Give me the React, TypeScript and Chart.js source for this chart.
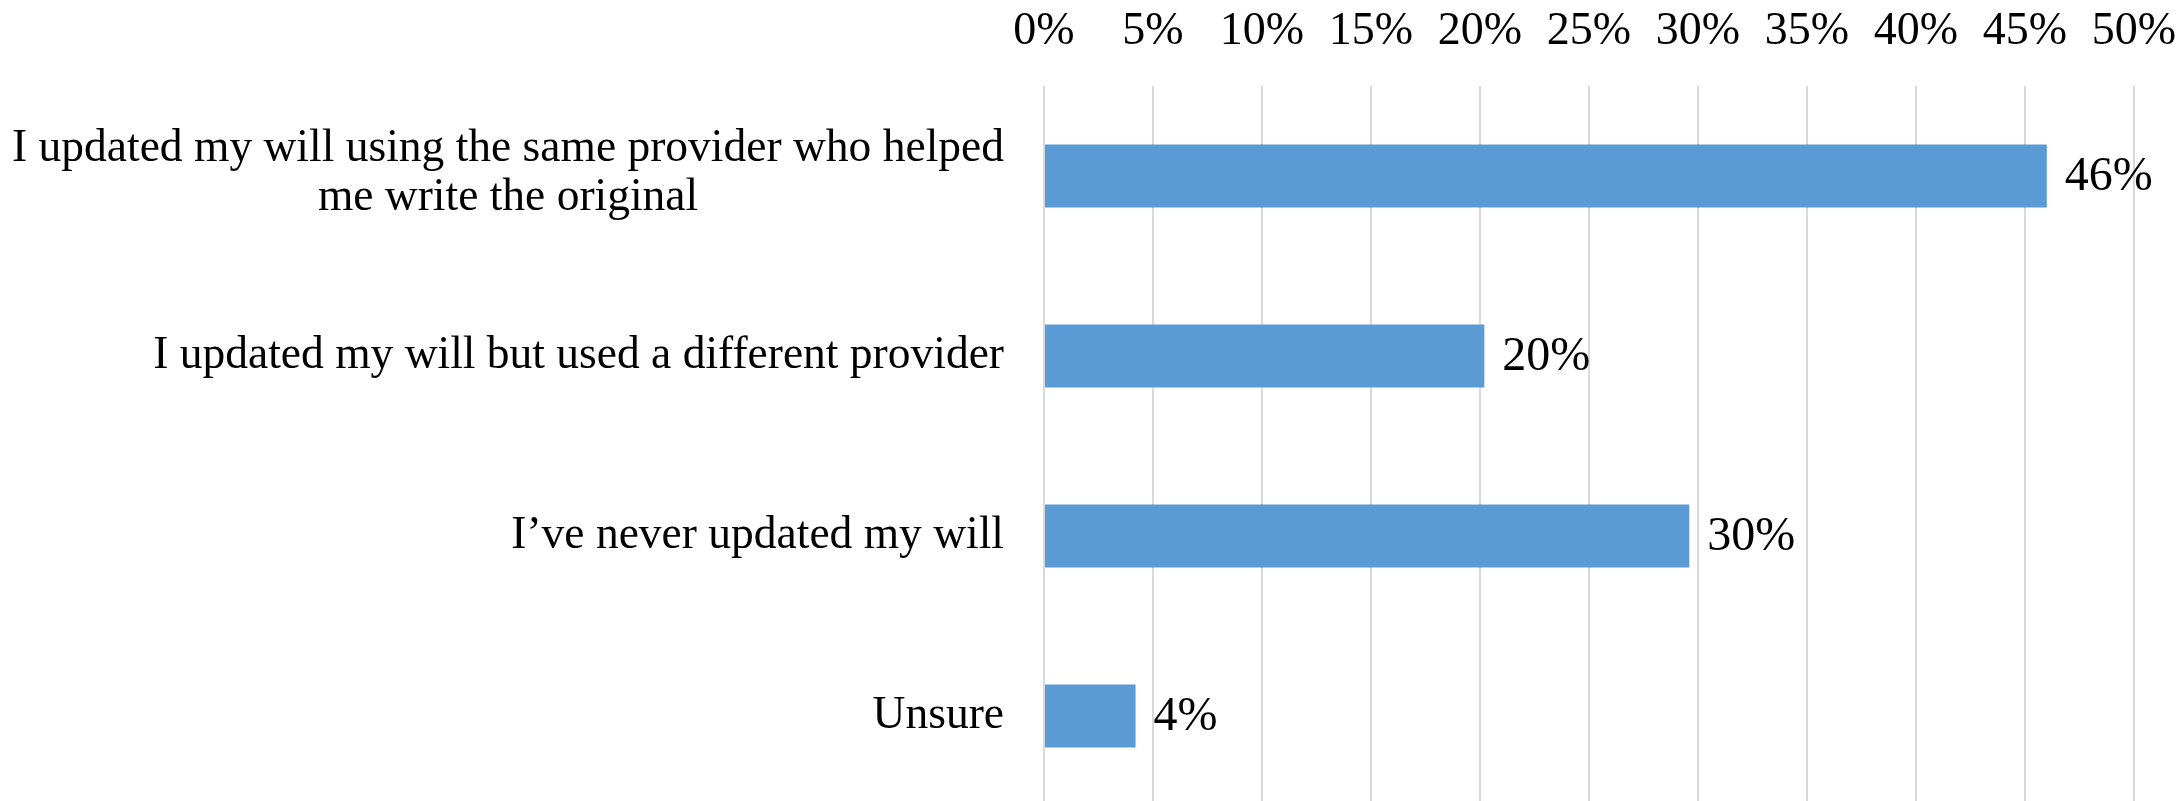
import React, { useEffect, useRef } from "react";
import { Chart, registerables } from "chart.js";

Chart.register(...registerables);

const categories: (string | string[])[] = [
  ["I updated my will using the same provider who helped", "me write the original"],
  "I updated my will but used a different provider",
  "I\u2019ve never updated my will",
  "Unsure",
];
const values: number[] = [46.0, 20.2, 29.6, 4.2];
const axisMin = 0;
const axisMax = 50;
const axisStep = 5;

const FONT = "'Liberation Serif', 'Times New Roman', serif";
const BAR_COLOR = "#5b9bd5";
const GRID_COLOR = "#d9d9d9";

const categoryLabelPlugin = {
  id: "categoryLabels",
  afterDraw(chart: any) {
    const ctx = chart.ctx;
    const yScale = chart.scales.y;
    ctx.save();
    ctx.font = `45.5px ${FONT}`;
    ctx.fillStyle = "#000";
    ctx.textBaseline = "middle";
    ctx.textAlign = "center";
    const right = chart.chartArea.left - 40;
    const lineH = 49;
    categories.forEach((label, i) => {
      const lines = Array.isArray(label) ? label : [label];
      const w = Math.max(...lines.map((l) => ctx.measureText(l).width));
      const cx = right - w / 2;
      const cy = yScale.getPixelForTick(i) - (lines.length - 1) * 2.5;
      lines.forEach((line, j) => {
        ctx.fillText(line, cx, cy + (j - (lines.length - 1) / 2) * lineH);
      });
    });
    ctx.restore();
  },
};

const dataLabelPlugin = {
  id: "dataLabels",
  afterDatasetsDraw(chart: any) {
    const ctx = chart.ctx;
    const meta = chart.getDatasetMeta(0);
    ctx.save();
    ctx.font = `48px ${FONT}`;
    ctx.fillStyle = "#000";
    ctx.textBaseline = "middle";
    ctx.textAlign = "left";
    meta.data.forEach((bar: any, i: number) => {
      ctx.fillText(`${Math.round(values[i])}%`, bar.x + 18, bar.y + 1);
    });
    ctx.restore();
  },
};

export default function App() {
  const canvasRef = useRef<HTMLCanvasElement | null>(null);

  useEffect(() => {
    const canvas = canvasRef.current;
    if (!canvas) return;
    const chart = new Chart(canvas, {
      type: "bar",
      data: {
        labels: categories as any,
        datasets: [
          {
            data: values,
            backgroundColor: BAR_COLOR,
            borderWidth: 0,
            barPercentage: 0.35,
            categoryPercentage: 1,
          },
        ],
      },
      options: {
        indexAxis: "y",
        responsive: false,
        animation: false,
        devicePixelRatio: 1,
        layout: { padding: { left: 0, right: 49, top: 0, bottom: 0 } },
        plugins: {
          legend: { display: false },
          tooltip: { enabled: false },
          title: { display: false },
        },
        scales: {
          x: {
            position: "top",
            min: axisMin,
            max: axisMax,
            afterFit: (scale: any) => {
              scale.height = 86;
            },
            ticks: {
              stepSize: axisStep,
              padding: 0,
              color: "#000",
              font: { family: FONT, size: 46, lineHeight: 2.35 },
              callback: (v: any) => `${v}%`,
            },
            grid: {
              color: GRID_COLOR,
              lineWidth: 2,
              drawTicks: false,
            },
            border: { display: false },
          },
          y: {
            afterFit: (scale: any) => {
              scale.width = 1044;
            },
            ticks: { display: false },
            grid: { display: false },
            border: { display: false },
          },
        },
      },
      plugins: [categoryLabelPlugin, dataLabelPlugin],
    });
    return () => chart.destroy();
  }, []);

  return (
    <div
      style={{
        position: "absolute",
        left: 0,
        top: 0,
        width: 2183,
        height: 801,
        overflow: "hidden",
        background: "#fff",
      }}
    >
      <canvas ref={canvasRef} width={2183} height={806} style={{ display: "block", width: 2183, height: 806 }} />
    </div>
  );
}
